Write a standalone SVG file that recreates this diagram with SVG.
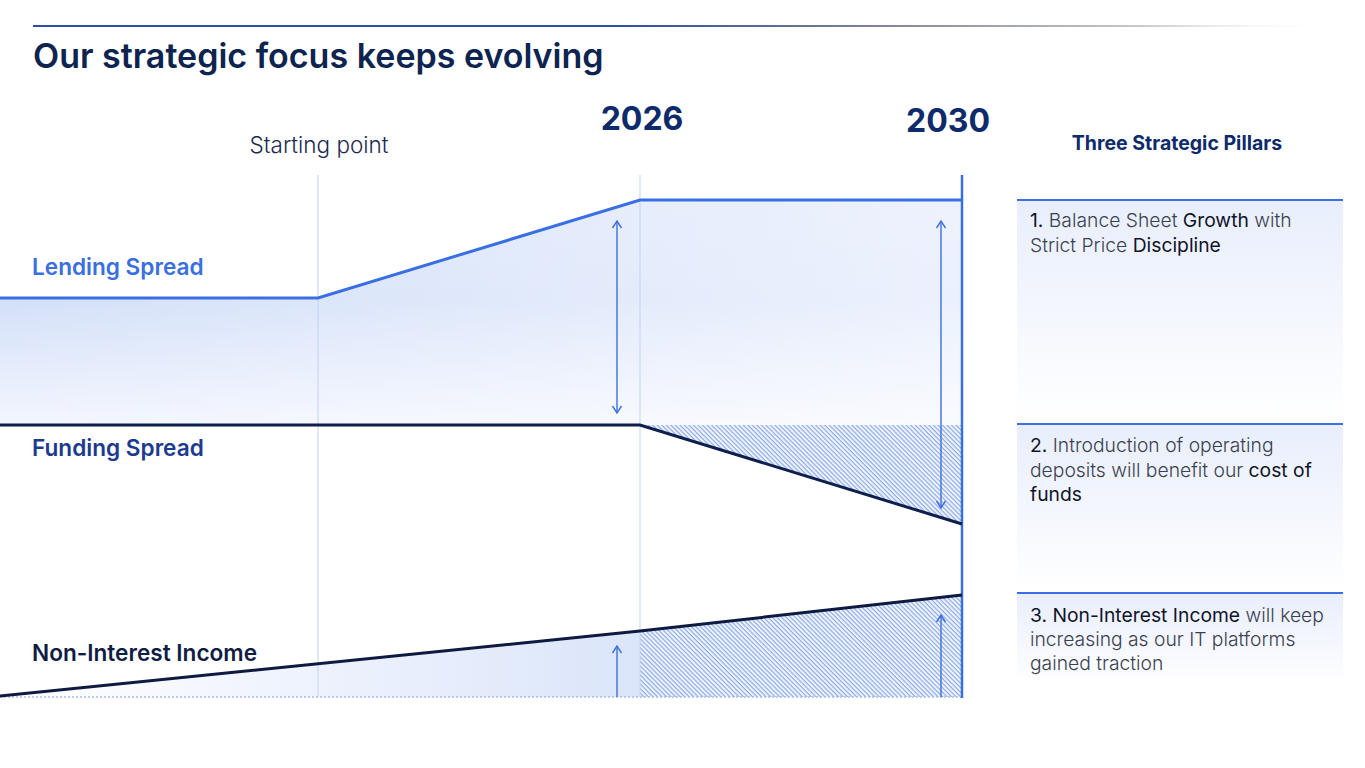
<svg xmlns="http://www.w3.org/2000/svg" width="1365" height="768" viewBox="0 0 1365 768">
<style>
.t{font-family:Inter,"Liberation Sans",sans-serif}
.lbl{font-size:22.6px;font-weight:600}
.yr{font-size:32px;font-weight:700;fill:#0d2a6a;text-anchor:middle}
.pt{font-size:19.3px;font-weight:300;fill:#3a3f52}
.pt tspan.b{font-weight:400;fill:#10142a}
.vl{stroke:#c3d2f3;stroke-width:1}
.arr{stroke:#3d6fe0;stroke-width:1.4;fill:none}
</style>
<defs>
<linearGradient id="hdr" x1="33" y1="0" x2="1335" y2="0" gradientUnits="userSpaceOnUse">
<stop offset="0" stop-color="#2d4fa3"/><stop offset="0.45" stop-color="#2f50a0"/><stop offset="0.6" stop-color="#6a7590"/><stop offset="0.85" stop-color="#c8c8cc"/><stop offset="1" stop-color="#ffffff" stop-opacity="0"/>
</linearGradient>
<linearGradient id="lend" x1="0" y1="200" x2="0" y2="425" gradientUnits="userSpaceOnUse">
<stop offset="0" stop-color="#d8e3fa"/><stop offset="0.45" stop-color="#d4e0f9"/><stop offset="1" stop-color="#f3f6fe"/>
</linearGradient>
<linearGradient id="lendH" x1="0" y1="0" x2="962" y2="0" gradientUnits="userSpaceOnUse">
<stop offset="0" stop-color="#ffffff" stop-opacity="0"/><stop offset="1" stop-color="#ffffff" stop-opacity="0.55"/>
</linearGradient>
<linearGradient id="nii" x1="0" y1="0" x2="640" y2="0" gradientUnits="userSpaceOnUse">
<stop offset="0" stop-color="#ffffff"/><stop offset="1" stop-color="#dbe5fa"/>
</linearGradient>
<linearGradient id="pan" x1="0" y1="0" x2="0" y2="1">
<stop offset="0" stop-color="#e8eefc"/><stop offset="1" stop-color="#ffffff"/>
</linearGradient>
<pattern id="hatch" width="3.2" height="3.2" patternUnits="userSpaceOnUse" patternTransform="rotate(-45)">
<rect width="3.2" height="3.2" fill="#f0f4fd"/>
<line x1="1" y1="0" x2="1" y2="3.2" stroke="#86a4e6" stroke-width="1.1"/>
</pattern>
<marker id="ah" viewBox="0 0 12 12" refX="11" refY="6" markerWidth="12" markerHeight="12" markerUnits="userSpaceOnUse" orient="auto-start-reverse">
<path d="M4,1.5 L11,6 L4,10.5" fill="none" stroke="#3d6fe0" stroke-width="1.4"/>
</marker>
</defs>
<rect width="1365" height="768" fill="#ffffff"/>

<g id="header">
<rect x="33" y="25" width="1302" height="2" fill="url(#hdr)"/>
<text class="t" x="33" y="68" font-size="34" font-weight="600" fill="#0d2350">Our strategic focus keeps evolving</text>
</g>

<g id="fills">
<path d="M0,298 L318,298 L640,200 L962,200 L962,425 L0,425 Z" fill="url(#lend)"/>
<path d="M0,298 L318,298 L640,200 L962,200 L962,425 L0,425 Z" fill="url(#lendH)"/>
<path d="M640,425 L962,425 L962,524 Z" fill="url(#hatch)"/>
<path d="M0,696 L640,631 L640,697 L0,697 Z" fill="url(#nii)"/>
<path d="M640,631 L962,595 L962,697 L640,697 Z" fill="url(#hatch)"/>
</g>

<g id="gridlines">
<line class="vl" x1="318" y1="175" x2="318" y2="697"/>
<line class="vl" x1="640" y1="175" x2="640" y2="697"/>
<line x1="0" y1="697" x2="962" y2="697" stroke="#a9bdea" stroke-width="1.5" stroke-dasharray="2,2"/>
<line x1="962" y1="175" x2="962" y2="698" stroke="#3a6fe0" stroke-width="2.5"/>
</g>

<g id="lending-spread">
<polyline points="0,298 318,298 640,200 962,200" fill="none" stroke="#3a6fe3" stroke-width="3"/>
<text class="t lbl" x="32" y="275" fill="#3a6fe0">Lending Spread</text>
</g>
<g id="funding-spread">
<polyline points="0,425 640,425 962,524" fill="none" stroke="#0e1f4e" stroke-width="3"/>
<text class="t lbl" x="32" y="456" fill="#1c3a8f">Funding Spread</text>
</g>
<g id="non-interest-income">
<polyline points="0,696 640,631 962,595" fill="none" stroke="#0e1a40" stroke-width="3"/>
<text class="t lbl" x="32" y="661" fill="#0f1d45">Non-Interest Income</text>
</g>

<g id="connectors">
<line class="arr" x1="617" y1="221" x2="617" y2="413" marker-start="url(#ah)" marker-end="url(#ah)"/>
<line class="arr" x1="941" y1="221" x2="941" y2="508" marker-start="url(#ah)" marker-end="url(#ah)"/>
<line class="arr" x1="617" y1="697" x2="617" y2="646" marker-end="url(#ah)"/>
<line class="arr" x1="941" y1="697" x2="941" y2="615" marker-end="url(#ah)"/>
</g>

<g id="timeline-labels">
<text class="t" x="319" y="153" font-size="22.5" font-weight="300" fill="#1b2a4e" text-anchor="middle">Starting point</text>
<text class="t yr" x="642" y="130">2026</text>
<text class="t yr" x="948" y="132">2030</text>
<text class="t" x="1177" y="150" font-size="19.5" font-weight="700" fill="#0d2a6a" text-anchor="middle">Three Strategic Pillars</text>
</g>

<g id="pillar-1">
<rect x="1017" y="200" width="326" height="223" fill="url(#pan)"/>
<line x1="1017" y1="200" x2="1343" y2="200" stroke="#3b6fe3" stroke-width="2"/>
<text class="t pt" x="1030" y="227"><tspan class="b">1.</tspan> Balance Sheet <tspan class="b">Growth</tspan> with</text>
<text class="t pt" x="1030" y="252">Strict Price <tspan class="b">Discipline</tspan></text>
</g>
<g id="pillar-2">
<rect x="1017" y="424" width="326" height="168" fill="url(#pan)"/>
<line x1="1017" y1="424" x2="1343" y2="424" stroke="#3b6fe3" stroke-width="2"/>
<text class="t pt" x="1030" y="452"><tspan class="b">2.</tspan> Introduction of operating</text>
<text class="t pt" x="1030" y="477">deposits will benefit our <tspan class="b">cost of</tspan></text>
<text class="t pt" x="1030" y="501"><tspan class="b">funds</tspan></text>
</g>
<g id="pillar-3">
<rect x="1017" y="593" width="326" height="92" fill="url(#pan)"/>
<line x1="1017" y1="593" x2="1343" y2="593" stroke="#3b6fe3" stroke-width="2"/>
<text class="t pt" x="1030" y="622"><tspan class="b">3. Non-Interest Income</tspan> will keep</text>
<text class="t pt" x="1030" y="646">increasing as our IT platforms</text>
<text class="t pt" x="1030" y="670">gained traction</text>
</g>
</svg>
